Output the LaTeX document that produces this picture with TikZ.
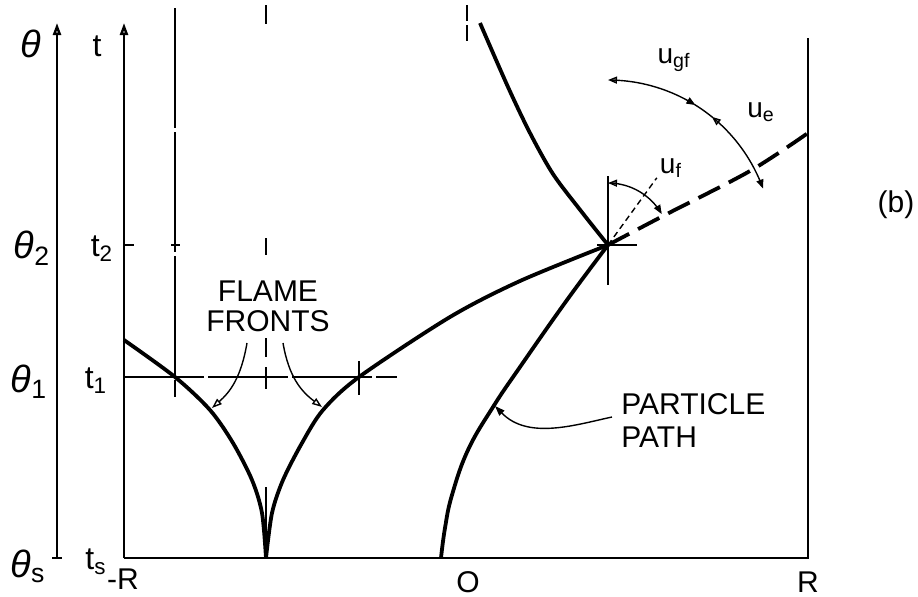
\documentclass[tikz,border=0pt]{standalone}
\usepackage{fontspec}
\setmainfont{Liberation Sans}
\usetikzlibrary{arrows.meta}
\begin{document}
\begin{tikzpicture}[x=0.5pt,y=-0.5pt,
  axisl/.style={line width=1.2pt},
  curve/.style={line width=1.9pt, line join=round},
  thinl/.style={line width=0.7pt},
  lbl/.style={font=\fontsize{15}{17}\selectfont, inner sep=0pt},
  tlbl/.style={font=\fontsize{16}{18}\selectfont, inner sep=0pt},
  thlbl/.style={font=\fontsize{19}{21}\selectfont\itshape, inner sep=0pt},
  ulbl/.style={font=\fontsize{14}{16}\selectfont, inner sep=0pt},
  axarrow/.style={-{Triangle[open,length=6pt,width=4pt]}},
  uarr/.style={arrows={Triangle[open,length=4.5pt,width=3.5pt]-Triangle[length=4.5pt,width=3.5pt]}},
  openarr/.style={-{Triangle[open,length=5pt,width=3.5pt]}},
  fillarr/.style={-{Triangle[length=5pt,width=3.5pt]}}
]
\useasboundingbox (0,0) rectangle (918,596);
% key points
\coordinate (P2) at (608,245);
\coordinate (A1) at (175,377);
\coordinate (B1) at (359,377);
\coordinate (C) at (266,558);
\coordinate (O0) at (441,558);
\coordinate (T0) at (124,558);
\coordinate (Ttop) at (124,23);
\coordinate (Q0) at (57,558);
\coordinate (Qtop) at (57,23);
\coordinate (Rb) at (808,558);
\coordinate (Rt) at (808,38);
% axes
\draw[axisl,axarrow] (T0) -- (Ttop);
\draw[axisl,axarrow] (Q0) -- (Qtop);
\draw[axisl] (52,558) -- (62,558);
\draw[axisl] (T0) -- (Rb) -- (Rt);
% guide lines and ticks
\draw[thinl] (124,245) -- (134,245);
\draw[thinl] (171,245) -- (180,245);
\draw[thinl, dash pattern=on 60pt off 2pt] (175,8) -- (175,397);
\draw[thinl] (266,5) -- (266,24);
\draw[thinl] (266,238) -- (266,255);
\draw[thinl] (266,338) -- (266,357);
\draw[thinl] (266,367) -- (266,389);
\draw[thinl] (266,487) -- (C);
\draw[thinl, dash pattern=on 8pt off 2pt] (467,5) -- (467,42);
\draw[thinl, dash pattern=on 40pt off 2pt] (124,377) -- (397,377);
\draw[thinl] (359,361) -- (359,395);
\draw[thinl] (608,176) -- (608,285);
\draw[thinl] (597,245) -- (637,245);
% flame fronts
\draw[curve] plot[smooth] coordinates {(124,340) (A1) (210,410) (233,443) (252,480) (262,513) (C)};
\draw[curve] plot[smooth] coordinates {(C) (272,513) (283,480) (302,443) (323,410) (B1) (450,317) (520,281) (P2)};
% particle path
\draw[curve] plot[smooth, tension=0.7] coordinates {(O0) (445,528) (452,495) (468,450) (493,407) (520,367) (567,300) (P2)};
% upper curve
\draw[curve] plot[smooth] coordinates {(480,23) (508,87) (530,133) (553,174) (581,211) (P2)};
% dashed continuation
\draw[curve, dash pattern=on 12pt off 5pt] plot[smooth] coordinates {(P2) (663,216) (750,171) (808,133)};
\draw[thinl, dash pattern=on 3pt off 2pt] (P2) -- ++(-54:83);
% angle arcs
\draw[thinl, uarr] plot[domain=-90:-30, samples=40] ({608+62*cos(\x)},{245+62*sin(\x)});
\draw[thinl, uarr] plot[domain=-90:-58, samples=30] ({608+165*cos(\x)},{245+165*sin(\x)});
\draw[thinl] plot[domain=-58.5:-50.5, samples=10] ({608+165*cos(\x)},{245+165*sin(\x)});
\draw[thinl, uarr] plot[domain=-51:-20, samples=30] ({608+165*cos(\x)},{245+165*sin(\x)});
% label arrows
\coordinate (fa1) at (247,343);
\coordinate (fa2) at (283,343);
\coordinate (pa) at (612,417);
\draw[thinl, openarr] (fa1) .. controls (241,378) and (230,392) .. (212,408);
\draw[thinl, openarr] (fa2) .. controls (289,378) and (302,392) .. (322,407);
\draw[thinl, fillarr] (pa) .. controls (575,425) and (528,440) .. (495,406);
% labels
\node[thlbl] (lth) at (31,44) {θ};
\node[tlbl] (lt) at (97,46) {t};
\node[thlbl] (lth2) at (32,248) {θ\textsubscript{\upshape 2}};
\node[tlbl] (lt2) at (102,249) {t\textsubscript{2}};
\node[thlbl] (lth1) at (29,382) {θ\textsubscript{\upshape 1}};
\node[tlbl] (lt1) at (96,381) {t\textsubscript{1}};
\node[thlbl] (lths) at (28,566) {θ\textsubscript{\upshape s}};
\node[tlbl] (lts) at (96,562) {t\textsubscript{s}};
\node[lbl] (lmR) at (123,579) {-R};
\node[lbl] (lO) at (468,582) {O};
\node[lbl] (lR) at (808,582) {R};
\node[lbl] (lfl) at (268,291) {FLAME};
\node[lbl] (lfr) at (268,321) {FRONTS};
\node[lbl, anchor=west] (lpa) at (621,404) {PARTICLE};
\node[lbl, anchor=west] (lpb) at (621,437) {PATH};
\node[ulbl] (lugf) at (674,60) {u\textsubscript{gf}};
\node[ulbl] (lue) at (761,112) {u\textsubscript{e}};
\node[ulbl] (luf) at (671,168) {u\textsubscript{f}};
\node[lbl] (lb) at (896,205) {(b)};
\end{tikzpicture}
\end{document}
